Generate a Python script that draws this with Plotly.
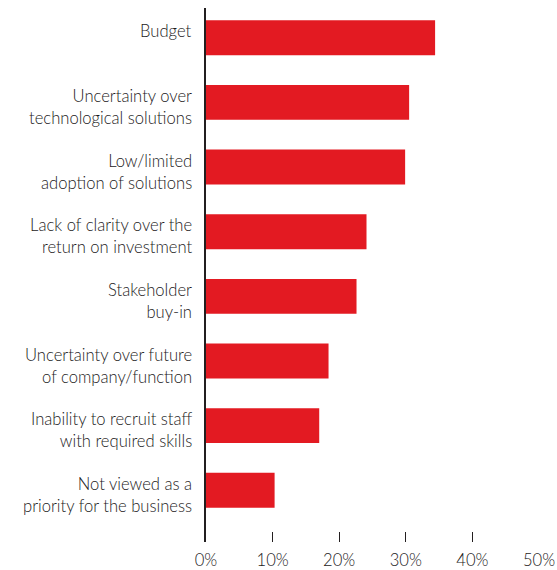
import plotly.graph_objects as go

# Barriers, listed top to bottom
categories = [
    "Budget",
    "Uncertainty over<br>technological solutions",
    "Low/limited<br>adoption of solutions",
    "Lack of clarity over the<br>return on investment",
    "Stakeholder<br>buy-in",
    "Uncertainty over future<br>of company/function",
    "Inability to recruit staff<br>with required skills",
    "Not viewed as a<br>priority for the business",
]
values = [34.4, 30.5, 29.9, 24.1, 22.6, 18.4, 17.0, 10.3]
tick_values = [0, 10, 20, 30, 40, 50]
tick_labels = ["0%", "10%", "20%", "30%", "40%", "50%"]

BAR_WIDTH = 0.54
TEXT = "#1c1a1b"

fig = go.Figure(
    go.Bar(
        x=values,
        y=categories,
        orientation="h",
        marker=dict(color="#e31a22", line=dict(width=0)),
        width=BAR_WIDTH,
        hoverinfo="skip",
    )
)

# Category labels hang from the top edge of each bar
for i, label in enumerate(categories):
    fig.add_annotation(
        x=0,
        y=i - BAR_WIDTH / 2,
        xref="x",
        yref="y",
        text=label,
        showarrow=False,
        xanchor="right",
        yanchor="top",
        align="right",
        xshift=-12,
        yshift=1,
        font=dict(family="Lato", size=16.6, color=TEXT, weight=300),
    )

fig.update_layout(
    width=557,
    height=570,
    margin=dict(l=206, r=18, t=8, b=28, autoexpand=False),
    paper_bgcolor="white",
    plot_bgcolor="white",
    font=dict(family="Lato", size=16.6, color=TEXT, weight=300),
    showlegend=False,
)

fig.update_xaxes(
    range=[0, 50],
    tickvals=tick_values,
    ticktext=tick_labels,
    ticks="inside",
    ticklen=10,
    tickwidth=1.2,
    tickcolor="#231f20",
    showgrid=False,
    zeroline=False,
    showline=False,
    automargin=False,
    ticklabelstandoff=6,
    tickfont=dict(size=16.6, weight=300),
)

fig.update_yaxes(
    type="category",
    categoryorder="array",
    categoryarray=categories,
    range=[7.8, -0.46],
    showgrid=False,
    zeroline=False,
    showline=True,
    linecolor="#231f20",
    linewidth=1.5,
    ticks="",
    showticklabels=False,
    automargin=False,
)

fig.write_html("out.html")
